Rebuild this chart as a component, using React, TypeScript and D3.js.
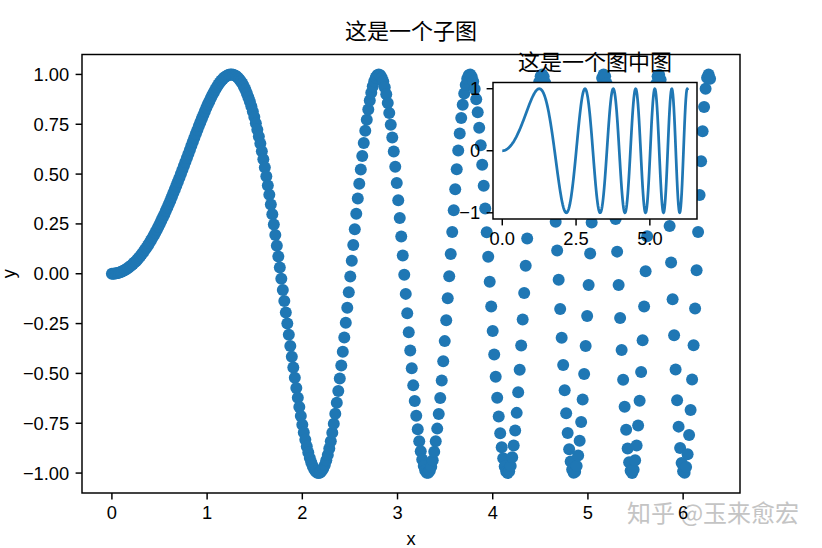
import React from 'react';
import * as d3 from 'd3';

// Sampling grid of the x axis (evenly spaced from 0 to 2π, 400 samples)
const X_START = 0;
const X_END = 2 * Math.PI;

// y values read for each of the 400 sample points
const Y_VALUES: number[] = [
  0, 0, 0.001, 0.002, 0.004, 0.006, 0.009, 0.012, 0.016, 0.020,
  0.025, 0.030, 0.036, 0.042, 0.049, 0.056, 0.063, 0.072, 0.080, 0.089,
  0.099, 0.109, 0.120, 0.131, 0.142, 0.154, 0.167, 0.180, 0.193, 0.207,
  0.221, 0.236, 0.251, 0.267, 0.283, 0.299, 0.316, 0.333, 0.350, 0.368,
  0.386, 0.405, 0.424, 0.443, 0.462, 0.481, 0.501, 0.521, 0.541, 0.561,
  0.581, 0.601, 0.621, 0.642, 0.662, 0.682, 0.702, 0.721, 0.741, 0.760,
  0.779, 0.797, 0.815, 0.833, 0.850, 0.866, 0.882, 0.897, 0.911, 0.925,
  0.937, 0.949, 0.960, 0.969, 0.977, 0.985, 0.990, 0.995, 0.998, 1.000,
  1.000, 0.998, 0.995, 0.991, 0.984, 0.976, 0.966, 0.954, 0.940, 0.924,
  0.906, 0.886, 0.864, 0.840, 0.814, 0.786, 0.755, 0.723, 0.689, 0.653,
  0.615, 0.574, 0.533, 0.489, 0.443, 0.396, 0.348, 0.298, 0.247, 0.194,
  0.141, 0.086, 0.031, -0.025, -0.081, -0.137, -0.194, -0.250, -0.306, -0.362,
  -0.416, -0.470, -0.522, -0.573, -0.622, -0.669, -0.714, -0.757, -0.796, -0.833,
  -0.867, -0.897, -0.924, -0.947, -0.966, -0.981, -0.992, -0.998, -1.000, -0.997,
  -0.989, -0.976, -0.959, -0.936, -0.909, -0.877, -0.840, -0.798, -0.752, -0.702,
  -0.647, -0.588, -0.526, -0.460, -0.391, -0.320, -0.246, -0.170, -0.093, -0.014,
  0.065, 0.144, 0.223, 0.301, 0.377, 0.451, 0.523, 0.591, 0.656, 0.717,
  0.773, 0.824, 0.869, 0.908, 0.941, 0.966, 0.985, 0.996, 1.000, 0.996,
  0.984, 0.964, 0.936, 0.900, 0.857, 0.806, 0.748, 0.684, 0.613, 0.537,
  0.455, 0.369, 0.280, 0.187, 0.092, -0.005, -0.101, -0.198, -0.293, -0.385,
  -0.474, -0.560, -0.639, -0.713, -0.780, -0.840, -0.890, -0.932, -0.965, -0.987,
  -0.998, -0.999, -0.989, -0.968, -0.936, -0.893, -0.840, -0.777, -0.704, -0.623,
  -0.535, -0.439, -0.338, -0.233, -0.123, -0.012, 0.099, 0.210, 0.319, 0.424,
  0.524, 0.618, 0.704, 0.781, 0.848, 0.904, 0.947, 0.978, 0.996, 1.000,
  0.989, 0.965, 0.927, 0.875, 0.810, 0.733, 0.645, 0.547, 0.441, 0.327,
  0.208, 0.085, -0.040, -0.164, -0.287, -0.405, -0.517, -0.622, -0.716, -0.800,
  -0.870, -0.926, -0.967, -0.992, -1.000, -0.991, -0.965, -0.921, -0.862, -0.787,
  -0.698, -0.595, -0.482, -0.360, -0.230, -0.096, 0.040, 0.177, 0.310, 0.438,
  0.558, 0.668, 0.765, 0.847, 0.913, 0.962, 0.991, 1.000, 0.989, 0.958,
  0.907, 0.837, 0.750, 0.646, 0.529, 0.399, 0.261, 0.117, -0.030, -0.177,
  -0.321, -0.458, -0.585, -0.700, -0.799, -0.881, -0.942, -0.982, -0.999, -0.993,
  -0.964, -0.912, -0.838, -0.744, -0.631, -0.503, -0.362, -0.212, -0.056, 0.102,
  0.257, 0.416, 0.555, 0.673, 0.783, 0.872, 0.940, 0.982, 1.000, 0.991,
  0.955, 0.894, 0.808, 0.701, 0.574, 0.430, 0.275, 0.111, -0.056, -0.222,
  -0.382, -0.532, -0.667, -0.783, -0.877, -0.946, -0.988, -1.000, -0.983, -0.936,
  -0.862, -0.761, -0.637, -0.493, -0.334, -0.164, 0.012, 0.188, 0.358, 0.517,
  0.661, 0.784, 0.882, 0.952, 0.991, 0.999, 0.973, 0.916, 0.828, 0.712,
  0.572, 0.413, 0.239, 0.056, -0.128, -0.309, -0.480, -0.635, -0.767, -0.874,
  -0.949, -0.991, -0.998, -0.970, -0.906, -0.809, -0.683, -0.531, -0.359, -0.174,
  0.018, 0.210, 0.395, 0.565, 0.715, 0.837, 0.928, 0.983, 1.000, 0.978,
];

const X_VALUES: number[] = Y_VALUES.map(
  (_, i) => X_START + (i * (X_END - X_START)) / (Y_VALUES.length - 1)
);

const X_TICKS = [0, 1, 2, 3, 4, 5, 6];
const Y_TICKS = [-1, -0.75, -0.5, -0.25, 0, 0.25, 0.5, 0.75, 1];
const INSET_X_TICKS = [0, 2.5, 5];
const INSET_Y_TICKS = [-1, 0, 1];

const MAIN_TITLE = '这是一个子图';
const INSET_TITLE = '这是一个图中图';
const X_LABEL = 'x';
const Y_LABEL = 'y';
const WATERMARK = '知乎 @玉来愈宏';

const BLUE = '#1f77b4';
const NUM_FONT = '"Liberation Sans", Arial, "Noto Sans CJK SC", sans-serif';
const CJK_FONT = '"Noto Sans CJK SC", "Liberation Sans", sans-serif';

export default function App() {
  const W = 822;
  const H = 548;
  const main = { l: 82, r: 740, t: 54.5, b: 493 };
  const inset = { l: 493, r: 697, t: 82.5, b: 219 };
  const pad = 0.05 * (X_END - X_START);
  const yExt = d3.extent(Y_VALUES) as [number, number];
  const yPad = 0.05 * (yExt[1] - yExt[0]);
  const xDom: [number, number] = [X_START - pad, X_END + pad];
  const yDom: [number, number] = [yExt[0] - yPad, yExt[1] + yPad];

  const x = d3.scaleLinear().domain(xDom).range([main.l, main.r]);
  const y = d3.scaleLinear().domain(yDom).range([main.b, main.t]);
  const xi = d3.scaleLinear().domain(xDom).range([inset.l, inset.r]);
  const yi = d3.scaleLinear().domain(yDom).range([inset.b, inset.t]);

  const linePath =
    d3
      .line<number>()
      .x((_, i) => xi(X_VALUES[i]))
      .y((d) => yi(d))(Y_VALUES) || '';

  const fmt2 = d3.format('.2f');
  const fmt1 = d3.format('.1f');
  const fmt0 = d3.format('d');
  const minus = (s: string) => s.replace('-', '\u2212');

  const tickLen = 6.4;
  const tickPad = 6.4;
  const sw = 1.47;
  const fs = 18.3;

  return (
    <svg
      width={W}
      height={H}
      style={{ position: 'absolute', left: 0, top: 0, background: '#fff' }}
    >
      <rect x={0} y={0} width={W} height={H} fill="#fff" />

      {/* watermark */}
      <text
        x={627}
        y={522}
        fontFamily={CJK_FONT}
        fontSize={24}
        fill="#c4c4c4"
      >
        {WATERMARK}
      </text>

      {/* main title */}
      <text
        x={(main.l + main.r) / 2}
        y={39}
        textAnchor="middle"
        fontFamily={CJK_FONT}
        fontSize={22}
        fill="#000"
      >
        {MAIN_TITLE}
      </text>

      {/* scatter points */}
      <g>
        {Y_VALUES.map((v, i) => (
          <circle key={i} cx={x(X_VALUES[i])} cy={y(v)} r={6} fill={BLUE} />
        ))}
      </g>

      {/* main spines */}
      <rect
        x={main.l}
        y={main.t}
        width={main.r - main.l}
        height={main.b - main.t}
        fill="none"
        stroke="#000"
        strokeWidth={sw}
      />

      {/* x ticks */}
      {X_TICKS.map((t) => (
        <g key={'xt' + t}>
          <line
            x1={x(t)}
            x2={x(t)}
            y1={main.b}
            y2={main.b + tickLen}
            stroke="#000"
            strokeWidth={sw}
          />
          <text
            x={x(t)}
            y={main.b + tickLen + tickPad + 13.2}
            textAnchor="middle"
            fontFamily={NUM_FONT}
            fontSize={fs}
            fill="#000"
          >
            {minus(fmt0(t))}
          </text>
        </g>
      ))}

      {/* y ticks */}
      {Y_TICKS.map((t) => (
        <g key={'yt' + t}>
          <line
            x1={main.l - tickLen}
            x2={main.l}
            y1={y(t)}
            y2={y(t)}
            stroke="#000"
            strokeWidth={sw}
          />
          <text
            x={main.l - tickLen - tickPad}
            y={y(t) + 6.5}
            textAnchor="end"
            fontFamily={NUM_FONT}
            fontSize={fs}
            fill="#000"
          >
            {minus(fmt2(t))}
          </text>
        </g>
      ))}

      {/* axis labels */}
      <text
        x={(main.l + main.r) / 2}
        y={545}
        textAnchor="middle"
        fontFamily={NUM_FONT}
        fontSize={fs}
        fill="#000"
      >
        {X_LABEL}
      </text>
      <text
        transform={`translate(15,${(main.t + main.b) / 2}) rotate(-90)`}
        textAnchor="middle"
        fontFamily={NUM_FONT}
        fontSize={fs}
        fill="#000"
      >
        {Y_LABEL}
      </text>

      {/* inset axes */}
      <rect
        x={inset.l}
        y={inset.t}
        width={inset.r - inset.l}
        height={inset.b - inset.t}
        fill="#fff"
      />
      <path
        d={linePath}
        fill="none"
        stroke={BLUE}
        strokeWidth={2.75}
        strokeLinejoin="round"
        strokeLinecap="butt"
      />
      <rect
        x={inset.l}
        y={inset.t}
        width={inset.r - inset.l}
        height={inset.b - inset.t}
        fill="none"
        stroke="#000"
        strokeWidth={sw}
      />
      {INSET_X_TICKS.map((t) => (
        <g key={'ixt' + t}>
          <line
            x1={xi(t)}
            x2={xi(t)}
            y1={inset.b}
            y2={inset.b + tickLen}
            stroke="#000"
            strokeWidth={sw}
          />
          <text
            x={xi(t)}
            y={inset.b + tickLen + tickPad + 13.2}
            textAnchor="middle"
            fontFamily={NUM_FONT}
            fontSize={fs}
            fill="#000"
          >
            {minus(fmt1(t))}
          </text>
        </g>
      ))}
      {INSET_Y_TICKS.map((t) => (
        <g key={'iyt' + t}>
          <line
            x1={inset.l - tickLen}
            x2={inset.l}
            y1={yi(t)}
            y2={yi(t)}
            stroke="#000"
            strokeWidth={sw}
          />
          <text
            x={inset.l - tickLen - tickPad}
            y={yi(t) + 6.5}
            textAnchor="end"
            fontFamily={NUM_FONT}
            fontSize={fs}
            fill="#000"
          >
            {minus(fmt0(t))}
          </text>
        </g>
      ))}
      <text
        x={(inset.l + inset.r) / 2}
        y={70}
        textAnchor="middle"
        fontFamily={CJK_FONT}
        fontSize={22}
        fill="#000"
      >
        {INSET_TITLE}
      </text>
    </svg>
  );
}
